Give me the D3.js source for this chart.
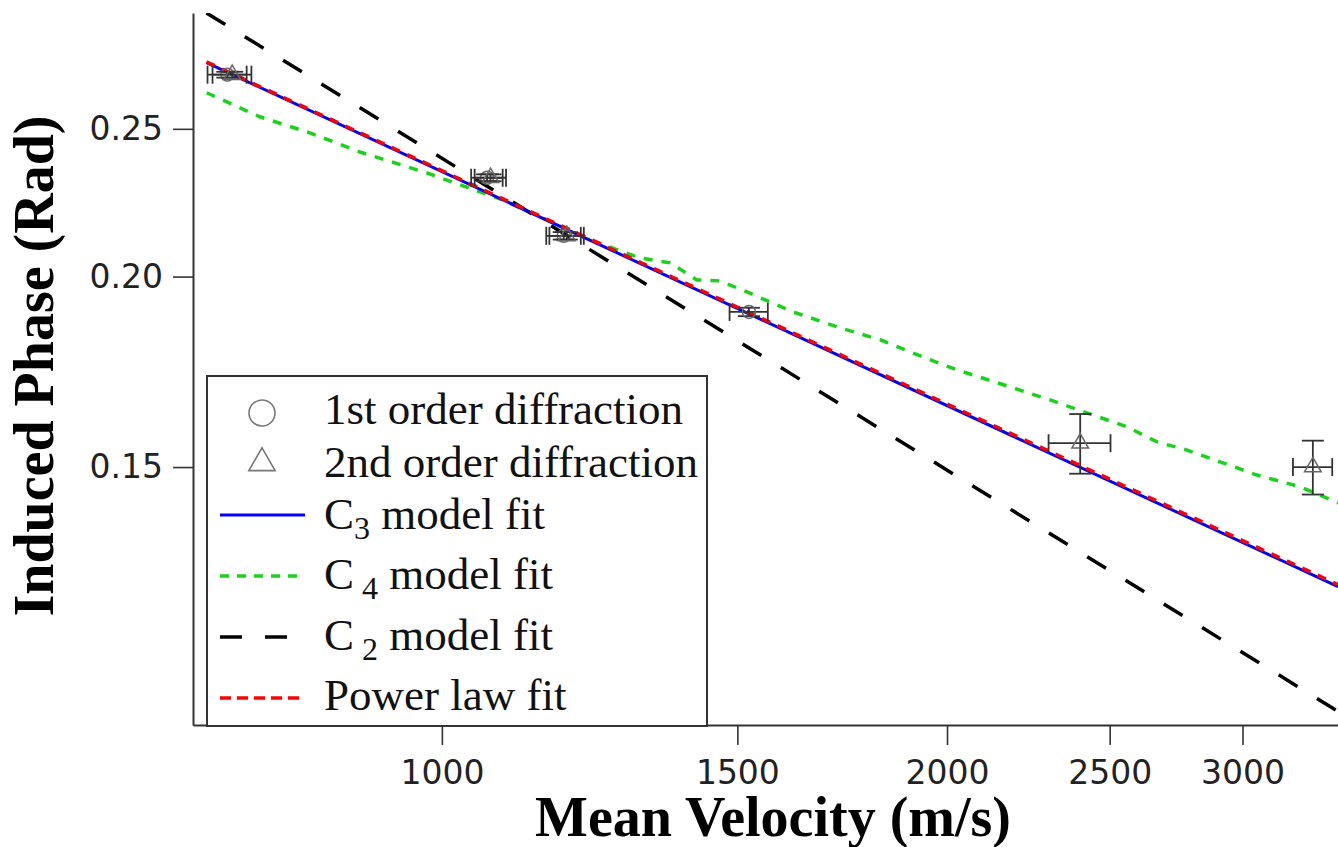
<!DOCTYPE html>
<html>
<head>
<meta charset="utf-8">
<script src="https://cdn.jsdelivr.net/npm/d3@7/dist/d3.min.js"></script>
<style>
  html, body { margin: 0; padding: 0; background: #fff; overflow: hidden; }
  svg { display: block; }
</style>
</head>
<body>
<svg id="chart" width="1338" height="847"></svg>
<script>
// ---- data (velocity in m/s, phase in rad) ----
const xTickValues = [1000, 1500, 2000, 2500, 3000];
const yTickValues = [0.15, 0.20, 0.25];

// 1st order diffraction measurements
const firstV        = [745, 1064, 1182, 1524];
const firstPhase    = [0.2713, 0.2322, 0.2127, 0.1896];
const firstVErr     = [20, 23, 28, 40];
const firstPhaseErr = [0.0012, 0.0012, 0.0012, 0.0012];

// 2nd order diffraction measurements
const secondV        = [750, 1069, 1187, 2401, 3304];
const secondPhase    = [0.2713, 0.2322, 0.2127, 0.1555, 0.1500];
const secondVErr     = [20, 23, 28, 102, 89];
const secondPhaseErr = [0.0012, 0.0012, 0.0012, 0.0070, 0.0061];

// model fits
const c3V = [724, 3420];
const c3Phase = [0.2763, 0.1252];
const powerV = [724, 3420];
const powerPhase = [0.2766, 0.1256];
const c2V = [724, 3420];
const c2Phase = [0.2978, 0.1037];
const c4V = [724.2, 778.9, 834.3, 893.7, 979.6, 1087.3, 1155.0, 1225.3, 1312.5, 1367.6,
             1419.1, 1464.6, 1520.0, 1619.1, 1727.0, 1824.5, 1935.4, 2027.8, 2181.0, 2304.0,
             2423.0, 2560.0, 2668.0, 2780.0, 2909.0, 3060.0, 3247.0, 3420.0];
const c4Phase = [0.2640, 0.2546, 0.2485, 0.2414, 0.2339, 0.2245, 0.2179, 0.2114, 0.2057, 0.2042,
                 0.1990, 0.1987, 0.1954, 0.1896, 0.1851, 0.1818, 0.1771, 0.1737, 0.1693, 0.1660,
                 0.1628, 0.1594, 0.1558, 0.1539, 0.1512, 0.1482, 0.1456, 0.1421];

const xDomain = [710.7, 3420];
const yDomain = [0.1016, 0.2978];

const legendLabels = ["1st order diffraction", "2nd order diffraction", "C|3| model fit",
                      "C| 4| model fit", "C| 2| model fit", "Power law fit"];

// ---- layout ----
const plot = { left: 193, right: 1338, top: 13, bottom: 725 };
const SERIF = "'Liberation Serif', 'Times New Roman', serif";
const SANS = "'DejaVu Sans', Verdana, sans-serif";

const svg = d3.select("#chart");

const x = d3.scaleLog().domain(xDomain).range([plot.left, plot.right]);
const y = d3.scaleLog().domain(yDomain).range([plot.bottom, plot.top]);

svg.append("defs").append("clipPath").attr("id", "plotClip")
  .append("rect")
  .attr("x", plot.left).attr("y", plot.top)
  .attr("width", plot.right - plot.left).attr("height", plot.bottom - plot.top);

// ---- axes ----
const xAxis = d3.axisBottom(x)
  .tickValues(xTickValues)
  .tickFormat(d3.format("d"))
  .tickSize(20).tickSizeOuter(0).tickPadding(16);
const yAxis = d3.axisLeft(y)
  .tickValues(yTickValues)
  .tickFormat(d3.format(".2f"))
  .tickSize(20).tickSizeOuter(0).tickPadding(10);

const gx = svg.append("g").attr("transform", `translate(0,${plot.bottom})`).call(xAxis);
const gy = svg.append("g").attr("transform", `translate(${plot.left},0)`).call(yAxis);
[gx, gy].forEach(g => {
  g.select(".domain").attr("stroke", "#333").attr("stroke-width", 2);
  g.selectAll(".tick line").attr("stroke", "#333").attr("stroke-width", 1.6);
  g.selectAll(".tick text")
    .attr("fill", "#222")
    .style("font-family", SANS)
    .style("font-size", "33px");
});

// axis titles
svg.append("text")
  .attr("transform", "translate(53,366) rotate(-90)")
  .attr("text-anchor", "middle")
  .style("font-family", SERIF).style("font-weight", "bold").style("font-size", "56px")
  .attr("fill", "#000")
  .text("Induced Phase (Rad)");
svg.append("text")
  .attr("x", 773).attr("y", 836)
  .attr("text-anchor", "middle")
  .style("font-family", SERIF).style("font-weight", "bold").style("font-size", "56px")
  .attr("fill", "#000")
  .text("Mean Velocity (m/s)");

// ---- fit curves ----
const line = d3.line().x(d => x(d[0])).y(d => y(d[1]));
const curves = svg.append("g").attr("clip-path", "url(#plotClip)");

const fits = [
  { v: c4V, p: c4Phase, color: "#16d416", width: 3.5, dash: "9,9" },
  { v: c2V, p: c2Phase, color: "#000000", width: 3.5, dash: "22,23" },
  { v: c3V, p: c3Phase, color: "#0000ff", width: 3, dash: null },
  { v: powerV, p: powerPhase, color: "#ff0000", width: 3.5, dash: "9,8" }
];
fits.forEach(f => {
  curves.append("path")
    .datum(d3.zip(f.v, f.p))
    .attr("d", line)
    .attr("fill", "none")
    .attr("stroke", f.color)
    .attr("stroke-width", f.width)
    .attr("stroke-dasharray", f.dash);
});

// ---- measurements with error bars ----
const points = svg.append("g").attr("clip-path", "url(#plotClip)");
const CAP = 9;
const ERR = "#333";

function drawSeries(vs, ps, vErr, pErr, symbolType, size) {
  const data = vs.map((v, i) => ({ v, p: ps[i], ve: vErr[i], pe: pErr[i] }));
  const g = points.append("g");
  data.forEach(d => {
    const cx = x(d.v), cy = y(d.p);
    const xl = x(d.v - d.ve), xr = x(d.v + d.ve);
    const yt = y(d.p + d.pe), yb = y(d.p - d.pe);
    const e = g.append("g").attr("stroke", ERR).attr("stroke-width", 1.8).attr("fill", "none");
    e.append("line").attr("x1", xl).attr("x2", xr).attr("y1", cy).attr("y2", cy);
    e.append("line").attr("x1", xl).attr("x2", xl).attr("y1", cy - CAP).attr("y2", cy + CAP);
    e.append("line").attr("x1", xr).attr("x2", xr).attr("y1", cy - CAP).attr("y2", cy + CAP);
    if (yb - yt > 4) {
      e.append("line").attr("x1", cx).attr("x2", cx).attr("y1", yt).attr("y2", yb);
      e.append("line").attr("x1", cx - 11).attr("x2", cx + 11).attr("y1", yt).attr("y2", yt);
      e.append("line").attr("x1", cx - 11).attr("x2", cx + 11).attr("y1", yb).attr("y2", yb);
    }
    g.append("path")
      .attr("transform", `translate(${cx},${cy})`)
      .attr("d", d3.symbol(symbolType, size)())
      .attr("fill", "none")
      .attr("stroke", "#666")
      .attr("stroke-width", 1.5);
  });
}
drawSeries(firstV, firstPhase, firstVErr, firstPhaseErr, d3.symbolCircle, 133);
drawSeries(secondV, secondPhase, secondVErr, secondPhaseErr, d3.symbolTriangle, 120);

// ---- legend ----
const legend = svg.append("g");
legend.append("rect")
  .attr("x", 207).attr("y", 376).attr("width", 500).attr("height", 350)
  .attr("fill", "#fff").attr("stroke", "#333").attr("stroke-width", 2);

const rowY = [413, 463, 515, 576, 637, 698];          // sample centre lines
const textY = [424, 477, 529, 589, 650, 710];         // text baselines
const samples = [
  { kind: "symbol", type: d3.symbolCircle, size: 531 },
  { kind: "symbol", type: d3.symbolTriangle, size: 300 },
  { kind: "line", color: "#0000ff", width: 3, dash: null },
  { kind: "line", color: "#16d416", width: 3.5, dash: "9,8" },
  { kind: "line", color: "#000000", width: 3.5, dash: "22,23" },
  { kind: "line", color: "#ff0000", width: 3.5, dash: "11,6" }
];

samples.forEach((s, i) => {
  if (s.kind === "symbol") {
    legend.append("path")
      .attr("transform", `translate(262,${rowY[i]})`)
      .attr("d", d3.symbol(s.type, s.size)())
      .attr("fill", "none").attr("stroke", "#777").attr("stroke-width", 1.6);
  } else {
    legend.append("line")
      .attr("x1", 220).attr("x2", 305).attr("y1", rowY[i]).attr("y2", rowY[i])
      .attr("stroke", s.color).attr("stroke-width", s.width)
      .attr("stroke-dasharray", s.dash);
  }
  // "|" separates the subscript part of a label
  const parts = legendLabels[i].split("|");
  const t = legend.append("text")
    .attr("x", 324).attr("y", textY[i])
    .attr("fill", "#111")
    .style("font-family", SERIF).style("font-size", "45px");
  if (parts.length === 3) {
    t.append("tspan").text(parts[0]);
    t.append("tspan").attr("dy", 10).style("font-size", "32px")
      .attr("xml:space", "preserve").text(parts[1]);
    t.append("tspan").attr("dy", -10).text(parts[2]);
  } else {
    t.text(parts[0]);
  }
});
</script>
</body>
</html>
